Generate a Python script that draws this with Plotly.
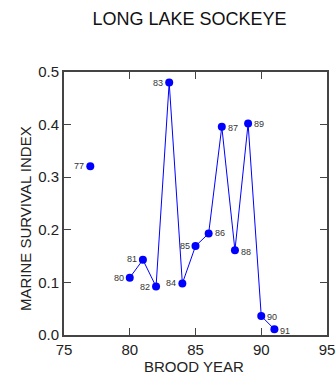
import plotly.graph_objects as go

years = [77, 78, 79, 80, 81, 82, 83, 84, 85, 86, 87, 88, 89, 90, 91]
survival = [0.321, None, None, 0.109, 0.143, 0.092, 0.480, 0.098, 0.169, 0.193, 0.396, 0.161, 0.402, 0.036, 0.011]
labels = ["77", "", "", "80", "81", "82", "83", "84", "85", "86", "87", "88", "89", "90", "91"]
label_side = ["left", "", "", "left", "left", "left", "left", "left", "left", "right", "right",
              "right", "right", "right", "right"]
label_dy = [0, 0, 0, 0, 1, 0, 0, 0, 0, 0, -1, -2, 0, -1, -2]

fig = go.Figure()
fig.add_trace(go.Scatter(
    x=years, y=survival, mode="lines+markers",
    line=dict(color="#0000ff", width=1),
    marker=dict(color="#0000ff", size=8),
    connectgaps=False, cliponaxis=False, showlegend=False,
))

for xv, yv, t, side, dy in zip(years, survival, labels, label_side, label_dy):
    if yv is None or not t:
        continue
    fig.add_annotation(
        x=xv, y=yv, text=t, showarrow=False,
        xanchor="right" if side == "left" else "left", yanchor="middle",
        xshift=-4 if side == "left" else 4, yshift=dy,
        font=dict(size=9, color="#333333", family="Liberation Sans, Arial"),
    )

axis_common = dict(
    showgrid=False, zeroline=False, showline=True, linecolor="#444444", linewidth=2,
    mirror="ticks", ticks="inside", ticklen=7, tickwidth=1, tickcolor="#444444",
    tickfont=dict(size=15, color="#222222", family="Liberation Sans, Arial"),
    automargin=False,
)
fig.update_xaxes(range=[75, 95], tickvals=[75, 80, 85, 90, 95], **axis_common)
fig.update_yaxes(range=[0, 0.5], tickvals=[0, 0.1, 0.2, 0.3, 0.4, 0.5], tickformat=".1f", **axis_common)

fig.add_annotation(xref="paper", yref="paper", x=0.496, y=-0.118, text="BROOD YEAR",
                   showarrow=False, xanchor="center", yanchor="middle",
                   font=dict(size=15, color="#222222", family="Liberation Sans, Arial"))
fig.add_annotation(xref="paper", yref="paper", x=-0.148, y=0.441, text="MARINE SURVIVAL INDEX",
                   showarrow=False, xanchor="center", yanchor="middle", textangle=-90,
                   font=dict(size=15, color="#222222", family="Liberation Sans, Arial"))

fig.update_layout(
    width=336, height=374,
    margin=dict(l=64, r=9, t=72, b=39),
    paper_bgcolor="white", plot_bgcolor="white",
    font=dict(family="Liberation Sans, Arial", color="#222222"),
    title=dict(text="LONG LAKE SOCKEYE", xref="container", x=0.564, xanchor="center",
               yref="container", y=0.95, yanchor="middle",
               font=dict(size=18, color="#111111")),
)

fig.write_html("out.html", config={"displayModeBar": False},
               post_script="document.body.style.margin='0';document.body.style.overflow='hidden';")
